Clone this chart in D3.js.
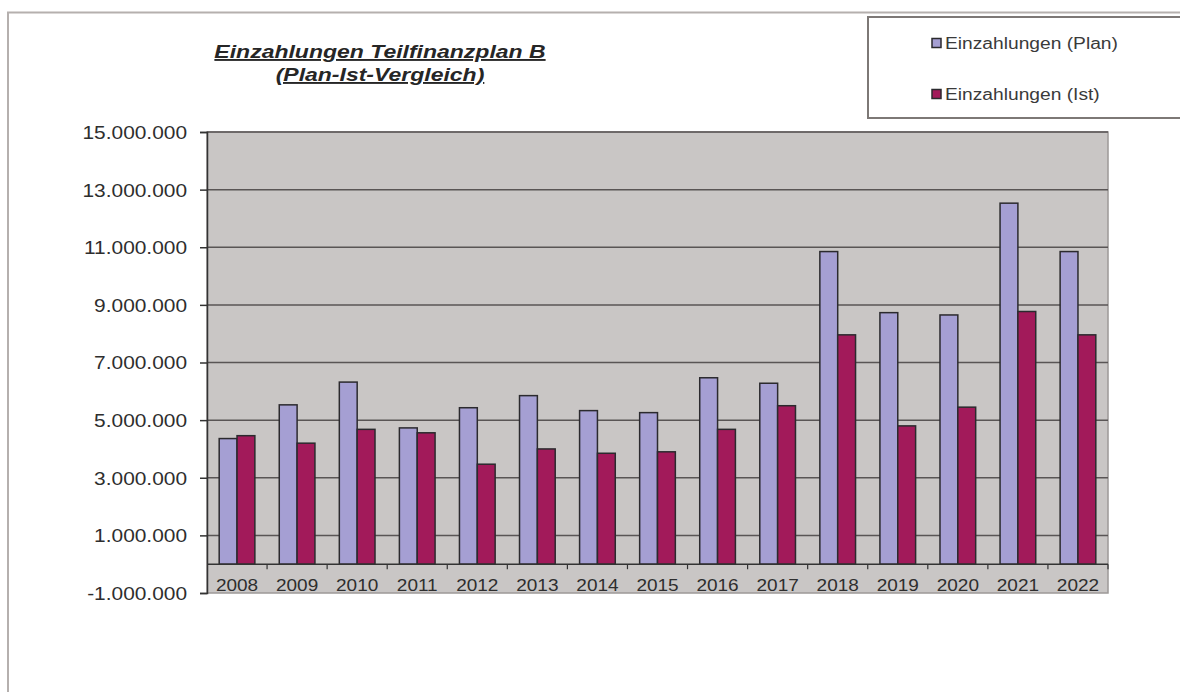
<!DOCTYPE html>
<html>
<head>
<meta charset="utf-8">
<script src="https://cdn.jsdelivr.net/npm/d3@7"></script>
<style>
  body { margin: 0; background: #fff; }
  svg text { font-family: "Liberation Sans", Arial, sans-serif; fill: #333; }
</style>
</head>
<body>
<svg id="chart"></svg>
<script>
// data
var years = ["2008", "2009", "2010", "2011", "2012", "2013", "2014", "2015",
             "2016", "2017", "2018", "2019", "2020", "2021", "2022"];
var plan = [4360000, 5530000, 6320000, 4730000, 5430000, 5850000, 5330000, 5260000,
            6470000, 6280000, 10850000, 8730000, 8650000, 12530000, 10850000];
var ist = [4460000, 4200000, 4680000, 4560000, 3470000, 4000000, 3850000, 3900000,
           4680000, 5500000, 7960000, 4800000, 5450000, 8770000, 7960000];
var seriesNames = ["Einzahlungen (Plan)", "Einzahlungen (Ist)"];
var seriesColors = ["#a59fd3", "#a21a5a"];
var yTicks = [-1000000, 1000000, 3000000, 5000000, 7000000, 9000000, 11000000, 13000000, 15000000];
var titleLines = ["Einzahlungen Teilfinanzplan B", "(Plan-Ist-Vergleich)"];

var width = 1180, height = 692;
var plotLeft = 207, plotRight = 1108, plotTop = 132, plotBottom = 593;

var svg = d3.select("#chart").attr("width", width).attr("height", height);

var de = d3.formatLocale({decimal: ",", thousands: ".", grouping: [3], currency: ["", " €"], minus: "-"});
var fmt = de.format(",.0f");

// stretch text horizontally like the scanned original
function stretch(sel, k) {
    sel.each(function() {
        var w = this.getComputedTextLength();
        d3.select(this).attr("textLength", w * k).attr("lengthAdjust", "spacingAndGlyphs");
    });
}

// outer frame
svg.append("rect")
    .attr("x", 8).attr("y", 12.5)
    .attr("width", width + 20).attr("height", height + 20)
    .attr("fill", "none").attr("stroke", "#b5b0ae").attr("stroke-width", 2);

var x = d3.scaleBand().domain(years).range([plotLeft, plotRight]).paddingInner(0.406).paddingOuter(0.203);
var xs = d3.scaleBand().domain([0, 1]).range([0, x.bandwidth()]);
var y = d3.scaleLinear().domain([-1000000, 15000000]).range([plotBottom, plotTop]);

// plot area
svg.append("rect")
    .attr("x", plotLeft).attr("y", plotTop)
    .attr("width", plotRight - plotLeft).attr("height", plotBottom - plotTop)
    .attr("fill", "#c9c6c5").attr("stroke", "#9c9897").attr("stroke-width", 1.5);

// grid lines
svg.append("g").selectAll("line")
    .data(yTicks.filter(function(d) { return d > -1000000; }))
    .enter().append("line")
    .attr("x1", plotLeft).attr("x2", plotRight)
    .attr("y1", function(d) { return y(d); }).attr("y2", function(d) { return y(d); })
    .attr("stroke", "#595555").attr("stroke-width", 1.5);

// bars
var groups = svg.append("g").selectAll("g")
    .data(years)
    .enter().append("g")
    .attr("transform", function(d) { return "translate(" + x(d) + ",0)"; });

groups.selectAll("rect")
    .data(function(d, i) { return [plan[i], ist[i]]; })
    .enter().append("rect")
    .attr("x", function(d, j) { return xs(j); })
    .attr("width", xs.bandwidth())
    .attr("y", function(d) { return y(d); })
    .attr("height", function(d) { return y(0) - y(d); })
    .attr("fill", function(d, j) { return seriesColors[j]; })
    .attr("stroke", "#2b2a2e").attr("stroke-width", 1.5);

// zero line and category ticks
svg.append("line")
    .attr("x1", plotLeft).attr("x2", plotRight)
    .attr("y1", y(0)).attr("y2", y(0))
    .attr("stroke", "#333").attr("stroke-width", 1.5);

var step = x.step();
svg.append("g").selectAll("line")
    .data(years.slice(1).concat(["end"]))
    .enter().append("line")
    .attr("x1", function(d, i) { return plotLeft + step * (i + 1); })
    .attr("x2", function(d, i) { return plotLeft + step * (i + 1); })
    .attr("y1", y(0)).attr("y2", y(0) + 5)
    .attr("stroke", "#333").attr("stroke-width", 1.2);

// x labels
var xAxis = svg.append("g")
    .attr("transform", "translate(0," + y(0) + ")")
    .call(d3.axisBottom(x).tickSize(0).tickPadding(0));
xAxis.select(".domain").remove();
xAxis.selectAll("text")
    .attr("y", 27).attr("dy", 0)
    .style("font-size", "16.5px").style("fill", "#2e2e2e");
stretch(xAxis.selectAll("text"), 1.15);

// y axis
var yAxis = svg.append("g")
    .attr("transform", "translate(" + plotLeft + ",0)")
    .call(d3.axisLeft(y).tickValues(yTicks).tickFormat(fmt).tickSize(7).tickPadding(13));
yAxis.select(".domain").attr("stroke", "#333").attr("stroke-width", 1.5);
yAxis.selectAll(".tick line").attr("stroke", "#333").attr("stroke-width", 1.5);
yAxis.selectAll("text")
    .style("font-size", "18px").style("fill", "#2e2e2e")
    .attr("dy", "0.36em");
stretch(yAxis.selectAll("text"), 1.16);

// title
var title = svg.append("g");
title.selectAll("text")
    .data(titleLines)
    .enter().append("text")
    .attr("x", 380).attr("y", function(d, i) { return 58 + i * 23; })
    .attr("text-anchor", "middle")
    .style("font-size", "19px").style("font-weight", "bold").style("font-style", "italic")
    .style("text-decoration", "underline")
    .style("fill", "#262626")
    .text(function(d) { return d; });
stretch(title.selectAll("text"), 1.21);

// legend
var legend = svg.append("g");
legend.append("rect")
    .attr("x", 868).attr("y", 17)
    .attr("width", 340).attr("height", 101)
    .attr("fill", "#fff").attr("stroke", "#7d7876").attr("stroke-width", 2);

var item = legend.selectAll("g")
    .data(seriesNames)
    .enter().append("g")
    .attr("transform", function(d, i) { return "translate(0," + (43 + i * 51) + ")"; });
item.append("rect")
    .attr("x", 932).attr("y", -4.5)
    .attr("width", 9).attr("height", 9)
    .attr("fill", function(d, i) { return seriesColors[i]; })
    .attr("stroke", "#2b2a2e").attr("stroke-width", 1.5);
item.append("text")
    .attr("x", 945).attr("y", 6)
    .style("font-size", "16px").style("fill", "#3a3a3a")
    .text(function(d) { return d; });
stretch(item.selectAll("text"), 1.2);
</script>
</body>
</html>
